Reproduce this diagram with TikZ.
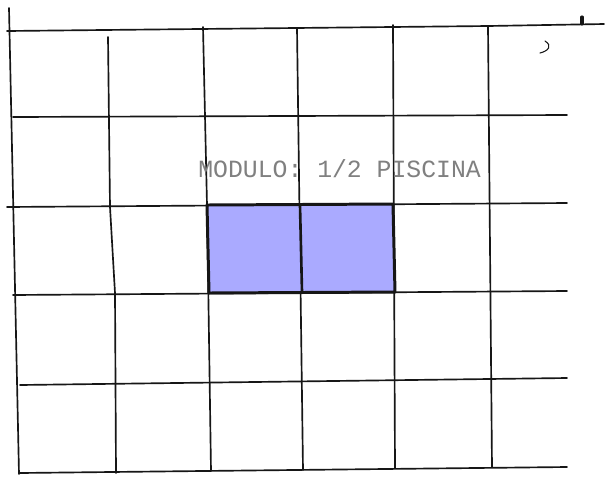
\documentclass[tikz,border=0pt]{standalone}
\usepackage{fontspec}
\newfontfamily\labelfont{Liberation Mono}
\definecolor{PencilBlack}{RGB}{22,22,22}
\definecolor{PoolBlue}{RGB}{170,170,255}
\definecolor{LabelGray}{RGB}{128,128,128}
\tikzset{
  gridline/.style={draw=PencilBlack,line width=0.95pt,line cap=round},
  poolcell/.style={fill=PoolBlue,draw=PencilBlack,line width=1.7pt,line join=round},
  poolline/.style={draw=PencilBlack,line width=1.5pt},
  module/.style={font=\labelfont\fontsize{14.1}{16}\selectfont,text=LabelGray,
    inner sep=0pt,anchor=base west}
}

\begin{document}
\begin{tikzpicture}[x=0.02cm,y=-0.02cm]
  \useasboundingbox (0,0) rectangle (606,478);
  \fill[white] (0,0) rectangle (606,478);
  \draw[gridline] (7,31) -- (488,26) -- (604,24);
  \draw[gridline] (13,117) -- (567,115);
  \draw[gridline] (7,207) -- (567,203);
  \draw[gridline] (13,295) -- (567,291);
  \draw[gridline] (20,385) -- (567,378);
  \draw[gridline] (20,473) -- (567,467);
  \draw[gridline] (9,8) -- (19,474);
  \draw[gridline] (108,37) -- (110,207) -- (115,293) -- (116,473);
  \draw[gridline] (203,27) -- (207,205) -- (211,471);
  \draw[gridline] (297,28) -- (303,470);
  \draw[gridline] (393,25) -- (395,468);
  \draw[gridline] (488,26) -- (492,467);
  \draw[gridline,line width=1.8pt] (582,17) -- (582,24);
  \draw[gridline,line width=0.6pt] (540,53) .. controls (548,51) and (553,46) .. (545,41);
  \filldraw[poolcell] (207,205) -- (393,204) -- (395,292) -- (209,293) -- cycle;
  \draw[poolline] (300,205) -- (302,292);
  \node[module] (module) at (198,177) {MODULO: 1/2 PISCINA};
\end{tikzpicture}
\end{document}
